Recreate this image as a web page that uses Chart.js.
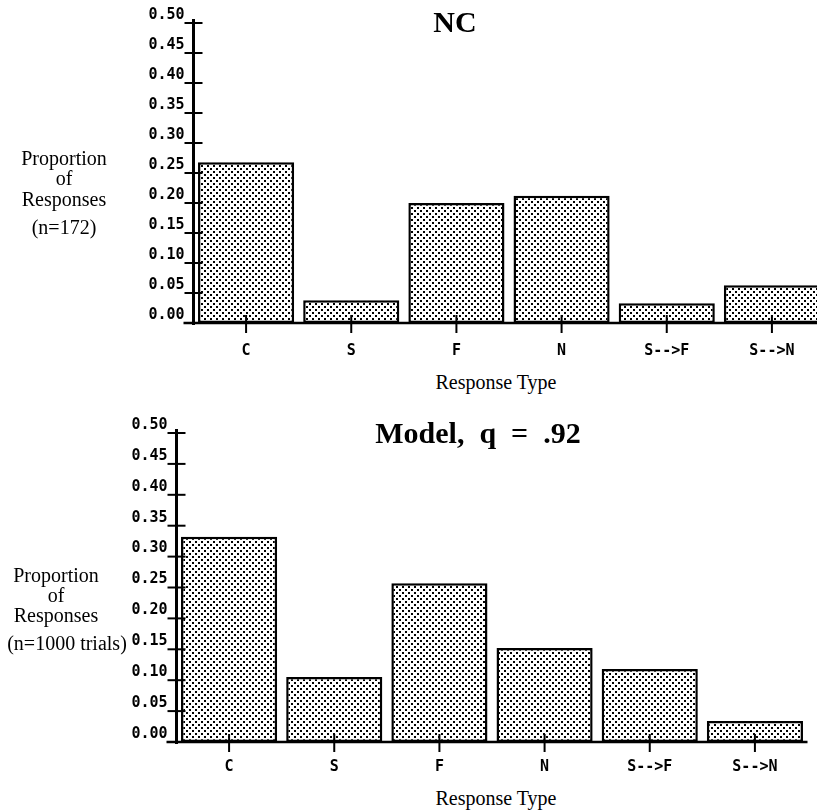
<!DOCTYPE html>
<html lang="en">
<head>
    <meta charset="UTF-8">
    <title>Response Type Proportions</title>
    <script src="https://cdn.jsdelivr.net/npm/chart.js"></script>
    <style>
        html, body {
            margin: 0;
            padding: 0;
            width: 817px;
            height: 810px;
            overflow: hidden;
            background: #fff;
        }
        .box {
            position: absolute;
        }
        .lbl {
            position: absolute;
            transform: translate(-50%, -50%);
            font-family: "Liberation Serif", "DejaVu Serif", serif;
            color: #000;
            line-height: 1;
            white-space: pre;
        }
        .title {
            font-size: 30px;
            font-weight: bold;
        }
        .side, .xtitle {
            font-size: 20px;
        }
    </style>
</head>
<body>
    <div class="box" style="left:0;top:0;width:830px;height:360px;">
        <canvas id="ncChart"></canvas>
    </div>
    <div class="box" style="left:0;top:400px;width:817px;height:380px;">
        <canvas id="modelChart"></canvas>
    </div>

    <!-- top panel texts -->
    <div class="lbl title" style="left:455px;top:22px;">NC</div>
    <div class="lbl side" style="left:64px;top:158px;">Proportion</div>
    <div class="lbl side" style="left:64px;top:178px;">of</div>
    <div class="lbl side" style="left:64px;top:199px;">Responses</div>
    <div class="lbl side" style="left:64px;top:227px;">(n=172)</div>
    <div class="lbl xtitle" style="left:496px;top:382px;">Response Type</div>

    <!-- bottom panel texts -->
    <div class="lbl title" style="left:478px;top:433px;">Model,  q  =  .92</div>
    <div class="lbl side" style="left:56px;top:575px;">Proportion</div>
    <div class="lbl side" style="left:56px;top:595px;">of</div>
    <div class="lbl side" style="left:56px;top:615px;">Responses</div>
    <div class="lbl side" style="left:67px;top:643px;">(n=1000 trials)</div>
    <div class="lbl xtitle" style="left:496px;top:798px;">Response Type</div>

    <script>
        const categories = ['C', 'S', 'F', 'N', 'S-->F', 'S-->N'];
        const ncValues = [0.268, 0.038, 0.200, 0.212, 0.033, 0.063];
        const modelValues = [0.332, 0.105, 0.257, 0.152, 0.118, 0.034];
        const yMin = 0;
        const yMax = 0.5;
        const yStep = 0.05;

        // stipple fill like the printed bars
        function makeStipple() {
            const c = document.createElement('canvas');
            c.width = 6;
            c.height = 6;
            const g = c.getContext('2d');
            g.fillStyle = '#fff';
            g.fillRect(0, 0, 6, 6);
            g.fillStyle = '#000';
            g.fillRect(0, 0, 2, 2);
            g.fillRect(3, 3, 2, 2);
            return g.createPattern(c, 'repeat');
        }
        const stipple = makeStipple();

        // axis lines with ticks that cross them
        const axisMarks = {
            id: 'axisMarks',
            afterDatasetsDraw(chart) {
                const ctx = chart.ctx;
                const a = chart.chartArea;
                const x = chart.scales.x;
                const y = chart.scales.y;
                const line = (x1, y1, x2, y2) => {
                    ctx.beginPath();
                    ctx.moveTo(x1, y1);
                    ctx.lineTo(x2, y2);
                    ctx.stroke();
                };
                ctx.save();
                ctx.strokeStyle = '#000';
                ctx.lineWidth = 3;
                line(a.left, y.getPixelForValue(yMax) - 4, a.left, a.bottom + 2);
                ctx.lineWidth = 2.5;
                line(a.left - 10, a.bottom, a.right, a.bottom);
                ctx.lineWidth = 2;
                y.ticks.forEach((t, i) => {
                    const py = y.getPixelForTick(i);
                    line(a.left - 9, py, a.left + 9, py);
                });
                x.ticks.forEach((t, i) => {
                    const px = x.getPixelForTick(i);
                    line(px, a.bottom - 8, px, a.bottom + 10);
                });
                ctx.restore();
            }
        };

        function makeChart(id, values, pad, yWidth, xHeight, xPad) {
            return new Chart(document.getElementById(id), {
                type: 'bar',
                data: {
                    labels: categories,
                    datasets: [{
                        data: values,
                        backgroundColor: stipple,
                        borderColor: '#000',
                        borderWidth: 2.5,
                        borderSkipped: false,
                        barPercentage: 0.914,
                        categoryPercentage: 1.0
                    }]
                },
                options: {
                    responsive: true,
                    maintainAspectRatio: false,
                    animation: false,
                    layout: { padding: pad },
                    plugins: {
                        legend: { display: false },
                        tooltip: { enabled: false },
                        title: { display: false }
                    },
                    scales: {
                        x: {
                            grid: { display: false, drawTicks: false },
                            border: { display: false },
                            ticks: {
                                color: '#000',
                                padding: xPad,
                                maxRotation: 0,
                                font: { family: 'DejaVu Sans Mono', size: 15, weight: 'bold' }
                            },
                            afterFit(scale) { scale.height = xHeight; }
                        },
                        y: {
                            min: yMin,
                            max: yMax,
                            grid: { display: false, drawTicks: false },
                            border: { display: false },
                            ticks: {
                                stepSize: yStep,
                                color: '#000',
                                padding: 9,
                                labelOffset: -8,
                                font: { family: 'DejaVu Sans Mono', size: 15, weight: 'bold' },
                                callback: v => v.toFixed(2)
                            },
                            afterFit(scale) { scale.width = yWidth; }
                        }
                    }
                },
                plugins: [axisMarks]
            });
        }

        makeChart('ncChart', ncValues, { left: 100, right: 5.5, top: 23, bottom: 0 }, 93.5, 37, 19);
        makeChart('modelChart', modelValues, { left: 80, right: 9.5, top: 33, bottom: 0 }, 96.5, 38, 16);
    </script>
</body>
</html>
